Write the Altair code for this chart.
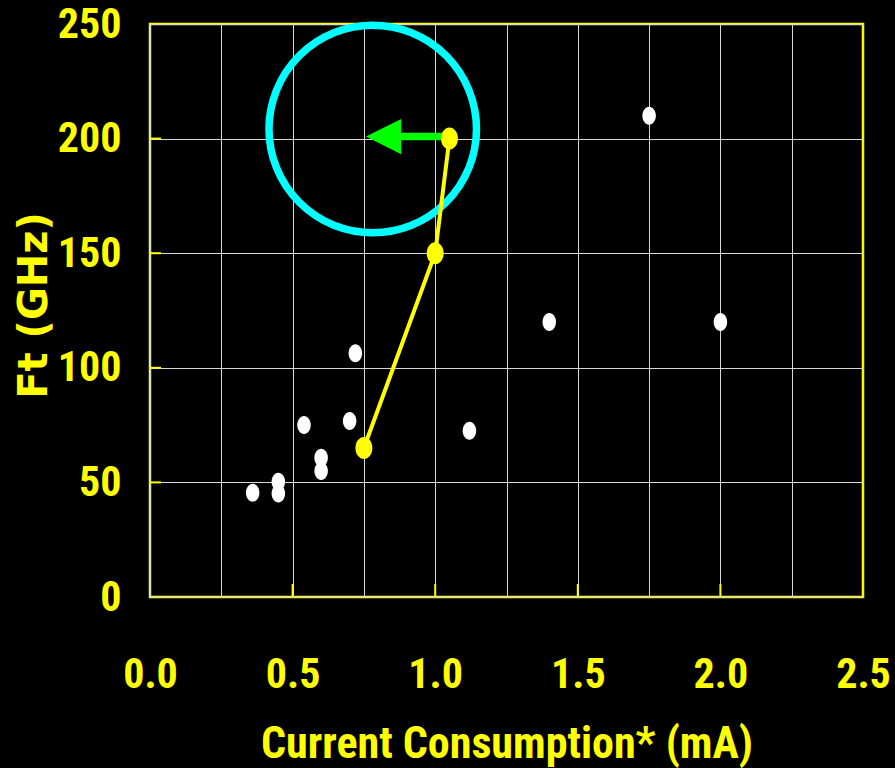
import altair as alt
import pandas as pd

# Other published devices (white dots)
other_current = [0.36, 0.45, 0.45, 0.54, 0.60, 0.60, 0.70, 0.72, 1.12, 1.40, 1.75, 2.00]
other_ft = [45.5, 45.2, 50.3, 75.0, 55.0, 60.8, 76.8, 106.3, 72.5, 120.0, 210.0, 120.0]

# Our device generations (yellow trend)
trend_current = [0.75, 1.00, 1.05]
trend_ft = [65.0, 150.0, 200.0]

# Green arrow pointing toward lower current at the same Ft
arrow_start_current = 1.034
arrow_shaft_end_current = 0.80
arrow_tip_current = 0.757
arrow_ft = 200.9

# Cyan highlight ring
ring_current = [0.781]
ring_ft = [204.2]

# Axis values
x_grid_values = [0.0, 0.25, 0.5, 0.75, 1.0, 1.25, 1.5, 1.75, 2.0, 2.25, 2.5]
y_tick_values = [0, 50, 100, 150, 200, 250]
x_inner_ticks = [0.5, 1.0, 1.5, 2.0]
y_inner_ticks = [50, 100, 150, 200]

YELLOW = "#ffff00"
CYAN = "#00ffff"
GREEN = "#00ff00"
NARROW = "Roboto Condensed, Liberation Sans Narrow, Liberation Sans, sans-serif"
WIDE = "DejaVu Sans, Verdana, sans-serif"

PLOT_W = 713
PLOT_H = 573

x_enc = alt.X(
    "current:Q",
    scale=alt.Scale(domain=[0, 2.5], nice=False, zero=False),
    axis=alt.Axis(
        values=x_grid_values,
        labelExpr="abs(datum.value * 2 - round(datum.value * 2)) < 0.01 ? format(datum.value, '.1f') : ''",
        labelFont=NARROW,
        labelFontSize=42,
        labelFontWeight="bold",
        labelColor=YELLOW,
        labelPadding=57,
        labelFlush=False,
        labelOverlap=False,
        labelBound=False,
        ticks=False,
        domain=False,
        grid=True,
        gridColor="#d8d8d8",
        gridWidth=1,
        gridOpacity=1,
        title="Current Consumption* (mA)",
        titleFont=NARROW,
        titleFontSize=44,
        titleFontWeight="bold",
        titleColor=YELLOW,
        titleBaseline="alphabetic",
        titleY=160,
    ),
)

y_enc = alt.Y(
    "ft:Q",
    scale=alt.Scale(domain=[0, 250], nice=False, zero=True),
    axis=alt.Axis(
        values=y_tick_values,
        format="d",
        labelFont=NARROW,
        labelFontSize=42,
        labelFontWeight="bold",
        labelColor=YELLOW,
        labelPadding=29,
        labelOverlap=False,
        labelBound=False,
        labelFlush=False,
        ticks=False,
        domain=False,
        grid=True,
        gridColor="#d8d8d8",
        gridWidth=1,
        gridOpacity=1,
        title="Ft (GHz)",
        titleFont=WIDE,
        titleFontSize=40,
        titleFontWeight="bold",
        titleColor=YELLOW,
        titleAngle=270,
        titleBaseline="alphabetic",
        titleX=-104,
        titleY=281,
    ),
)

others = pd.DataFrame({"current": other_current, "ft": other_ft})
trend = pd.DataFrame({"current": trend_current, "ft": trend_ft})
ring = pd.DataFrame({"current": ring_current, "ft": ring_ft})
shaft = pd.DataFrame({
    "current": [arrow_start_current],
    "current_end": [arrow_shaft_end_current],
    "ft": [arrow_ft],
})
head = pd.DataFrame({"current": [arrow_tip_current], "ft": [arrow_ft]})
y_ticks_df = pd.DataFrame({"ft": y_inner_ticks})
x_ticks_df = pd.DataFrame({"current": x_inner_ticks})

WHITE_DOT = "M-0.75,0A0.75,1 0 1,1 0.75,0A0.75,1 0 1,1 -0.75,0Z"
YELLOW_DOT = "M-0.77,0A0.77,1 0 1,1 0.77,0A0.77,1 0 1,1 -0.77,0Z"
ARROW_HEAD = "M0,0L2,-1L2,1Z"

ring_layer = alt.Chart(ring).mark_point(
    shape="circle", filled=False, size=43056, strokeWidth=7.5, color=CYAN, opacity=1
).encode(x=x_enc, y=y_enc)

y_tick_layer = alt.Chart(y_ticks_df).mark_rule(color=YELLOW, strokeWidth=2).encode(
    y=y_enc, x=alt.value(0), x2=alt.value(11)
)

x_tick_layer = alt.Chart(x_ticks_df).mark_rule(color=YELLOW, strokeWidth=2).encode(
    x=x_enc, y=alt.value(PLOT_H - 13), y2=alt.value(PLOT_H)
)

others_layer = alt.Chart(others).mark_point(
    shape=WHITE_DOT, filled=True, size=324, color="#ffffff", opacity=1, strokeWidth=0
).encode(x=x_enc, y=y_enc)

shaft_layer = alt.Chart(shaft).mark_rule(
    color=GREEN, strokeWidth=7.5, strokeCap="butt"
).encode(x=x_enc, x2=alt.X2("current_end:Q"), y=y_enc)

head_layer = alt.Chart(head).mark_point(
    shape=ARROW_HEAD, filled=True, size=1246, color=GREEN, opacity=1, strokeWidth=0
).encode(x=x_enc, y=y_enc)

trend_line = alt.Chart(trend).mark_line(color=YELLOW, strokeWidth=4).encode(
    x=x_enc, y=y_enc, order=alt.Order("ft:Q")
)

trend_points = alt.Chart(trend).mark_point(
    shape=YELLOW_DOT, filled=True, size=484, color=YELLOW, opacity=1, strokeWidth=0
).encode(x=x_enc, y=y_enc)

chart = alt.layer(
    ring_layer,
    y_tick_layer,
    x_tick_layer,
    others_layer,
    shaft_layer,
    head_layer,
    trend_line,
    trend_points,
).properties(
    width=PLOT_W,
    height=PLOT_H,
    background="#000000",
    padding={"left": 150, "top": 24, "right": 32, "bottom": 171},
    autosize=alt.AutoSizeParams(type="none"),
).configure_view(
    stroke=YELLOW,
    strokeWidth=2.5,
    fill="#000000",
)

chart.save("out.html", embed_options={"renderer": "svg", "actions": False})
